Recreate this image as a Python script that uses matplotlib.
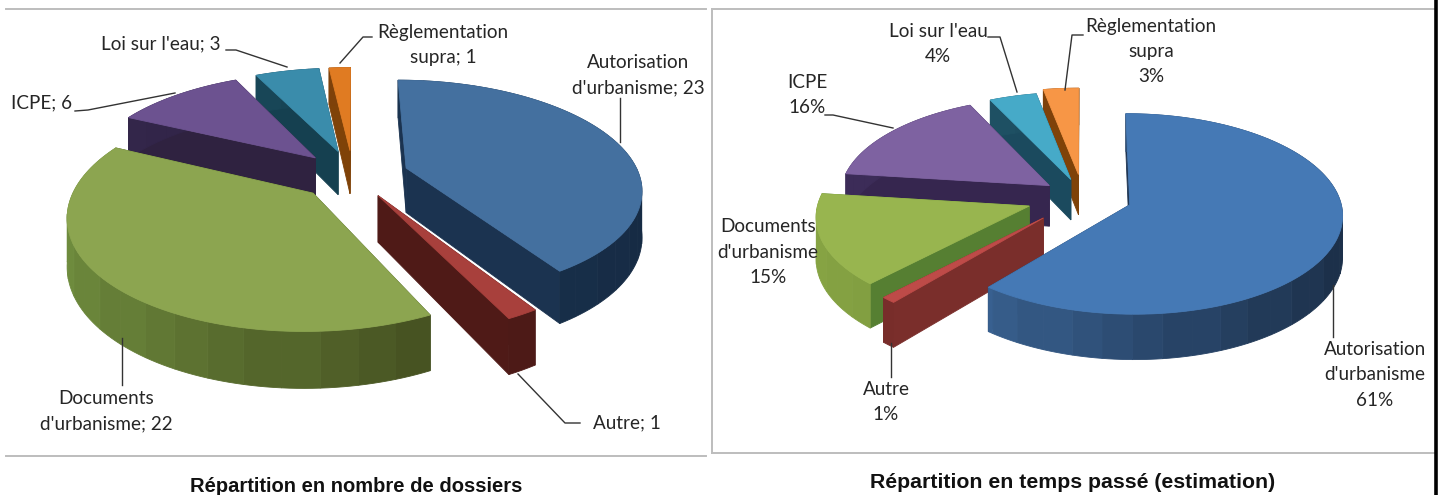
import numpy as np
import matplotlib
matplotlib.use("Agg")
import matplotlib.pyplot as plt
from matplotlib.colors import to_rgb
from matplotlib.patches import Polygon

# ---------- data ----------
categories = ["Autorisation d'urbanisme", "Autre", "Documents d'urbanisme", "ICPE", "Loi sur l'eau", "Règlementation supra"]
dossiers = [23, 1, 22, 6, 3, 1]
temps = [61, 1, 15, 16, 4, 3]
title_left = "Répartition en nombre de dossiers"
title_right = "Répartition en temps passé (estimation)"
labels_left = ["Autorisation\nd'urbanisme; 23", "Autre; 1", "Documents\nd'urbanisme; 22",
               "ICPE; 6", "Loi sur l'eau; 3", "Règlementation\nsupra; 1"]
labels_right = ["Autorisation\nd'urbanisme\n61%", "Autre\n1%", "Documents\nd'urbanisme\n15%",
                "ICPE\n16%", "Loi sur l'eau\n4%", "Règlementation\nsupra\n3%"]

# ---------- styles / layout ----------
colors_left = [("#44709F", "#1B3350", "#1E3A5A", "#162B44"),
               ("#A8403C", "#4F1A17", "#55201C", "#4A1815"),
               ("#8CA550", "#3F4F22", "#6E8B3D", "#3A4019"),
               ("#6C5290", "#2F2240", "#33264A", "#2A1E3A"),
               ("#3A8CAB", "#154050", "#1A4A5C", "#123848"),
               ("#E07B22", "#7F4208", "#8A480C", "#6E3806")]
colors_right = [("#4579B5", "#1F3552", "#3E6A9E", "#1C304A"),
                ("#BE4B48", "#7A2E2B", "#7A2E2B", "#6E2926"),
                ("#98B54F", "#567F32", "#86A343", "#6E8B35"),
                ("#7E62A1", "#36264F", "#3C2C58", "#302248"),
                ("#46AAC8", "#1B4A5E", "#205468", "#184254"),
                ("#F79646", "#7F4208", "#8A480C", "#6E3806")]
cfg_left = dict(cx=353, cy=175, rx=233, ry=106, k=0.18, depth=45,
                explode=[0.24, 0.215, 0.235, 0.235, 0.24, 0.24], order=[5, 4, 3, 0, 2, 1])
cfg_right = dict(cx=1083, cy=197, rx=210, ry=98, k=0.09, depth=41,
                 explode=[0.235, 0.28, 0.27, 0.20, 0.19, 0.235], order=[5, 4, 3, 2, 1, 0])

W, H = 1439, 495
fig = plt.figure(figsize=(W / 100, H / 100), dpi=100, facecolor="white")
ax = fig.add_axes([0, 0, 1, 1])
ax.set_xlim(0, W)
ax.set_ylim(H, 0)
ax.axis("off")


def project(nx, ny, c, down=0.0):
    s = 1.0 / (1.0 + c["k"] * ny)
    return c["cx"] + nx * c["rx"] * s, c["cy"] - ny * c["ry"] * s + down * s


def poly(pts, color, z):
    ax.add_patch(Polygon(pts, closed=True, facecolor=color, edgecolor=color, linewidth=0.6, zorder=z))


def pie3d(values, palette, c):
    vals = np.asarray(values, dtype=float)
    edges = np.concatenate([[0], np.cumsum(vals)]) / vals.sum() * 2 * np.pi
    for rank, i in enumerate(c["order"]):
        a0, a1 = edges[i], edges[i + 1]
        mid = (a0 + a1) / 2
        ox, oy = c["explode"][i] * np.sin(mid), c["explode"][i] * np.cos(mid)
        top, cut, rim_l, rim_r = palette[i]
        th = np.linspace(a0, a1, max(int((a1 - a0) / np.radians(1.5)), 2) + 1)
        nx, ny = ox + np.sin(th), oy + np.cos(th)
        z = 2 + rank
        apex_t = project(ox, oy, c)
        apex_b = project(ox, oy, c, c["depth"])
        for a in (a0, a1):
            ex, ey = ox + np.sin(a), oy + np.cos(a)
            poly([apex_t, project(ex, ey, c), project(ex, ey, c, c["depth"]), apex_b], cut, z)
        # outer wall, shaded in bands from left to right
        cl, cr = np.array(to_rgb(rim_l)), np.array(to_rgb(rim_r))
        step = 5
        for j in range(0, len(th) - 1, step):
            xs, ys = nx[j:j + step + 1], ny[j:j + step + 1]
            tx, ty = project(xs, ys, c)
            bx, by = project(xs, ys, c, c["depth"])
            f = np.clip((np.sin(th[j]) + 0.95) / 1.9, 0, 1)
            f = np.round(f * 12) / 12
            pts = list(zip(tx, ty)) + list(zip(bx[::-1], by[::-1]))
            poly(pts, tuple(cl + (cr - cl) * f), z)
        tx, ty = project(nx, ny, c)
        poly([apex_t] + list(zip(tx, ty)), top, z + 0.5)


pie3d(dossiers, colors_left, cfg_left)
pie3d(temps, colors_right, cfg_right)

# ---------- frames ----------
GRID = "#BDBDBD"
ax.plot([6, 706], [8.5, 8.5], color=GRID, lw=1.4, zorder=1)
ax.plot([6, 706], [456, 456], color=GRID, lw=1.4, zorder=1)
ax.plot([712, 1435], [9, 9], color=GRID, lw=1.4, zorder=1)
ax.plot([712, 1435], [453, 453], color=GRID, lw=1.4, zorder=1)
ax.plot([712, 712], [9, 453], color=GRID, lw=1.4, zorder=1)
ax.plot([1435.5, 1435.5], [0, H], color="black", lw=2.6, zorder=1)

# ---------- leaders ----------
leaders = [
    [(372, 37), (363, 37), (340, 63)], [(620, 98), (620, 142)], [(518, 374), (565, 423), (580, 423)],
    [(122, 338), (122, 385)], [(75, 111), (88, 110), (175, 93)], [(226, 50), (236, 50), (287, 67)],
    [(988, 37), (1000, 37), (1017, 92)], [(1083, 35), (1072, 35), (1065, 90)], [(825, 115), (833, 115), (893, 128)],
    [(891, 343), (891, 377)], [(1333, 285), (1333, 337)],
]
for line in leaders:
    xs, ys = zip(*line)
    ax.plot(xs, ys, color="#333333", lw=1.0, zorder=20)

# ---------- texts ----------
LABEL = dict(family="Lato", fontsize=13.6, color="#262626", ha="center", va="center", linespacing=1.58, zorder=21)
pos_left = [(638, 75), (627, 423), (106, 411), (42, 103), (161, 44), (443, 45)]
pos_right = [(1375, 375), (886, 402), (768, 252), (807, 95), (938, 44), (1151, 51.5)]
for txt, p in zip(labels_left, pos_left):
    ax.text(p[0], p[1], txt, **LABEL)
for txt, p in zip(labels_right, pos_right):
    ax.text(p[0], p[1], txt, **LABEL)

TITLE = dict(family="Liberation Sans", fontweight="bold", color="#111111", ha="center", va="center")
ax.text(356, 486.5, title_left, fontsize=14.5, **TITLE)
ax.text(1073, 482.5, title_right, fontsize=15.3, **TITLE)

fig.savefig("out.png", dpi=100, facecolor="white")
